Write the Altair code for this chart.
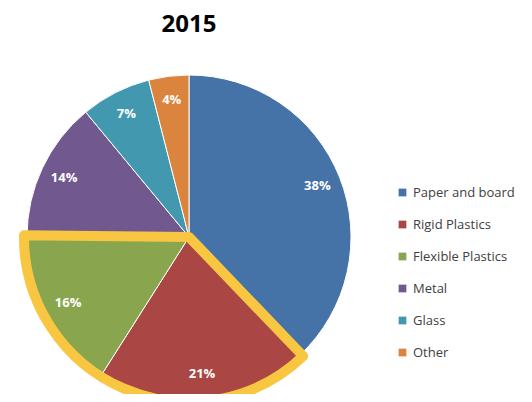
import math
import altair as alt
import pandas as pd

title_text = "2015"
categories = ["Paper and board", "Rigid Plastics", "Flexible Plastics", "Metal", "Glass", "Other"]
values = [38, 21, 16, 14, 7, 4]
colors = ["#4572A7", "#AA4643", "#89A54E", "#71588F", "#4198AF", "#DB843D"]
highlight = ["Rigid Plastics", "Flexible Plastics"]

df = pd.DataFrame({
    "category": categories,
    "value": values,
    "order": list(range(len(categories))),
    "label": [f"{v}%" for v in values],
})

W, H = 516, 386
CX, CY = 181, 229
R = 162

total = sum(values)
start_idx = categories.index(highlight[0])
end_idx = categories.index(highlight[-1])
t0 = sum(values[:start_idx]) / total * 2 * math.pi
t1 = sum(values[:end_idx + 1]) / total * 2 * math.pi

color_scale = alt.Scale(domain=categories, range=colors)

base = alt.Chart(df).encode(
    theta=alt.Theta("value:Q", stack=True),
    order=alt.Order("order:Q"),
    x=alt.value(CX),
    y=alt.value(CY),
)

pie = base.mark_arc(outerRadius=R, stroke="white", strokeWidth=1).encode(
    color=alt.Color(
        "category:N",
        scale=color_scale,
        sort=categories,
        legend=alt.Legend(
            title=None,
            orient="none",
            legendX=388,
            legendY=178,
            symbolType="square",
            symbolSize=60,
            symbolStrokeWidth=0,
            labelFontSize=13,
            labelColor="#404040",
            labelFont="Open Sans",
            rowPadding=18,
            labelOffset=4,
        ),
    )
)

labels = base.mark_text(
    radius=138, fontSize=13, fontWeight="bold", color="white", font="Open Sans"
).encode(text="label:N")

outline_df = pd.DataFrame({"name": ["highlight"]})
outline = alt.Chart(outline_df).mark_arc(
    theta=t0 - 0.01,
    theta2=t1 + 0.01,
    outerRadius=R + 3,
    innerRadius=0,
    filled=False,
    fill=None,
    stroke="#F9C642",
    strokeWidth=10,
    strokeJoin="round",
).encode(x=alt.value(CX), y=alt.value(CY))

title_df = pd.DataFrame({"t": [title_text]})
title = alt.Chart(title_df).mark_text(
    fontSize=24, fontWeight="bold", font="Open Sans", color="black", baseline="middle"
).encode(text="t:N", x=alt.value(CX), y=alt.value(17))

chart = alt.layer(pie, labels, outline, title).properties(
    width=W, height=H, padding=0, autosize=alt.AutoSizeParams(type="none")
).configure_view(stroke=None)

chart.save("out.html", embed_options={"renderer": "svg", "actions": False})
